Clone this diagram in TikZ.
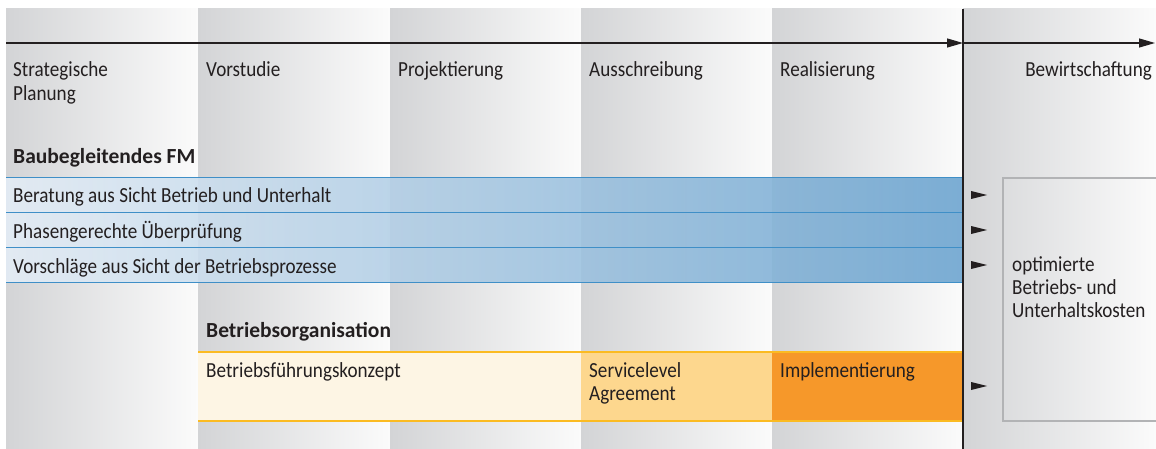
\documentclass[tikz,border=0pt]{standalone}
\usepackage{fontspec}
\setmainfont[FakeStretch=0.89, BoldFeatures={FakeStretch=1.0}]{Carlito}
\usetikzlibrary{arrows.meta}
\definecolor{txt}{HTML}{231F20}
\definecolor{colL}{HTML}{D3D4D6}
\definecolor{colR}{HTML}{FBFBFB}
\definecolor{blueL}{HTML}{E4EDF6}
\definecolor{blueR}{HTML}{6AA3CF}
\definecolor{blueLine}{HTML}{3F8FC7}
\definecolor{cream}{HTML}{FDF5E4}
\definecolor{lorange}{HTML}{FDD78E}
\definecolor{orange}{HTML}{F6982A}
\definecolor{oLine}{HTML}{FBBB22}
\definecolor{boxLine}{HTML}{B2B3B5}
\tikzset{
  lbl/.style={anchor=base west, inner sep=0pt, text=txt, align=left,
    font=\fontsize{21.5}{23.3}\selectfont},
  lblb/.style={lbl, font=\fontsize{21.5}{23.3}\selectfont\bfseries},
  col/.style={left color=colL, right color=colR},
  tl/.style={draw=txt, line width=1.2pt, -{Triangle[length=16pt,width=9pt]}},
  marker/.style={fill=txt},
}
\begin{document}
\begin{tikzpicture}[x=1pt,y=-1pt]
\useasboundingbox (0,0) rectangle (1156,449);
% background columns
\foreach \a/\b in {6/198,198/390,390/581,581/772,772/963,963/1156}
  \shade[col] (\a,9) rectangle (\b,449);
% timeline
\coordinate (t0) at (6,43);
\coordinate (t1) at (963,43);
\coordinate (t2) at (1155,43);
\draw[tl] (t0) -- (t1);
\draw[tl] (t1) -- (t2);
% column labels
\node[lbl] (c1) at (13,100.3) {Strategische\\Planung};
\node[lbl] (c2) at (206,77) {Vorstudie};
\node[lbl] (c3) at (398,77) {Projektierung};
\node[lbl] (c4) at (589,77) {Ausschreibung};
\node[lbl] (c5) at (780,77) {Realisierung};
\node[lbl, anchor=base east] (c6) at (1152,77) {Bewirtschaftung};
% Baubegleitendes FM
\node[lblb] (h1) at (13,164) {Baubegleitendes FM};
\shade[left color=blueL, right color=blueR, opacity=0.88] (6,177.5) rectangle (963,282.5);
\foreach \y in {177.5,212.5,247.5,282.5}
  \draw[blueLine, line width=1.6pt] (6,\y) -- (963,\y);
\node[lbl] (b1) at (13,203) {Beratung aus Sicht Betrieb und Unterhalt};
\node[lbl] (b2) at (13,238) {Phasengerechte Überprüfung};
\node[lbl] (b3) at (13,273) {Vorschläge aus Sicht der Betriebsprozesse};
% Betriebsorganisation
\node[lblb] (h2) at (206,337) {Betriebsorganisation};
\fill[cream] (198,352) rectangle (581,421);
\fill[lorange] (581,352) rectangle (772,421);
\fill[orange] (772,352) rectangle (963,421);
\draw[oLine, line width=1.6pt] (198,352) -- (963,352);
\draw[oLine, line width=1.6pt] (198,421) -- (963,421);
\node[lbl] (o1) at (206,377) {Betriebsführungskonzept};
\node[lbl] (o2) at (589,400.3) {Servicelevel\\Agreement};
\node[lbl] (o3) at (780,377) {Implementierung};
% vertical separator
\draw[txt, line width=2pt] (963,9) -- (963,449);
% result box
\shade[left color=colL!80!white, right color=colR, draw=boxLine, line width=1.4pt] (1003,178) rectangle (1158,421);
\node[lbl] (r1) at (1012,317.6) {optimierte\\Betriebs- und\\Unterhaltskosten};
% markers
\foreach \y in {195,230,265,386}
  \fill[marker] (971,\y-4) -- (987,\y) -- (971,\y+4) -- cycle;
\end{tikzpicture}
\end{document}
